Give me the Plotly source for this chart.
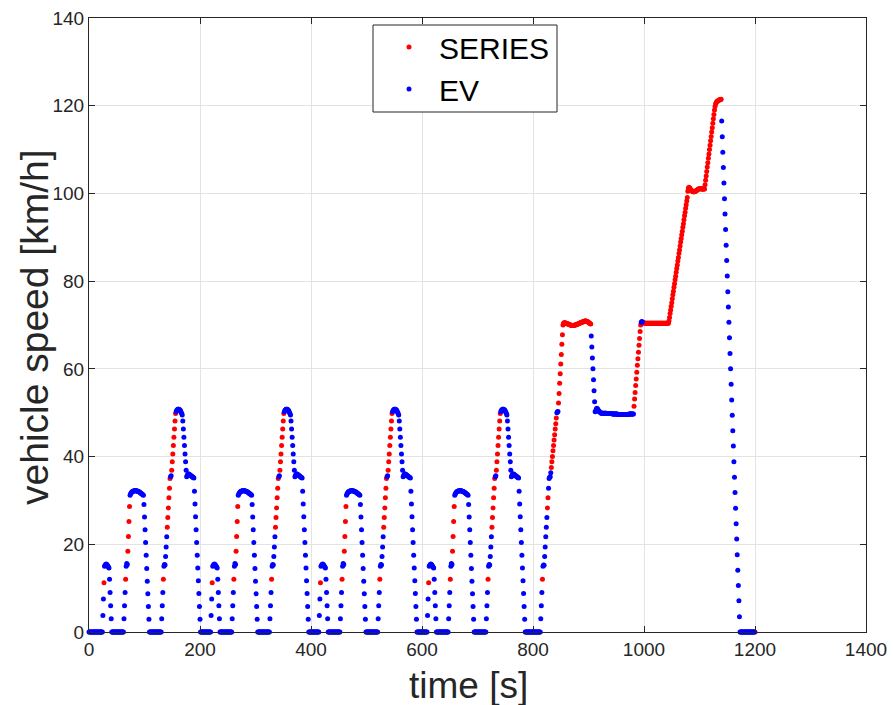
import numpy as np
import plotly.graph_objects as go

# ---------------- data (speed in km/h, one sample per second) ----------------
PRE_IDLE = [0] * 13

ECE_SPEED = (
    [0] * 12
    + [3.75, 7.5, 11.25, 15]
    + [15.2, 15.4, 15.5, 15.4, 15.2, 15.0, 14.8, 14.6]
    + [12, 9, 6, 3, 0]
    + [0] * 21
    + [3, 6, 9, 12, 15]
    + [15.6, 15.4]
    + [18.4, 21.8, 25.2, 28.6, 31.2]
    + [31.5, 31.7, 31.9, 32.0, 32.1, 32.1, 32.2, 32.2, 32.2, 32.2, 32.2, 32.2,
       32.1, 32.1, 32.0, 32.0, 31.9, 31.8, 31.7, 31.6, 31.5, 31.4, 31.3, 31.2]
    + [29.1, 26.2, 23.3, 20.4, 17.5, 14.5, 11.6, 8.7, 5.8, 2.9, 0]
    + [0] * 21
    + [3, 6, 9, 12, 15]
    + [15.4, 15.3]
    + [17.2, 19.4, 21.7, 23.9, 26.1, 28.3, 30.6, 32.8, 35]
    + [35.4, 35.6]
    + [36.9, 38.8, 40.6, 42.5, 44.4, 46.3, 48.1, 49.8]
    + [50.2, 50.5, 50.7, 50.8, 50.8, 50.8, 50.7, 50.6, 50.4, 50.1, 49.8, 49.5]
    + [48.1, 46.3, 44.4, 42.5, 40.6, 38.8, 36.9, 35.4]
    + [35.7, 35.9, 36.0, 36.0, 35.9, 35.8, 35.7, 35.6, 35.5, 35.4, 35.3, 35.2, 35.1]
    + [32.1, 29.2, 26.3, 23.3, 20.4, 17.5, 14.6, 11.7, 8.8, 5.8, 2.9, 0]
    + [0] * 6
)
# sample indices (inside one ECE cycle) driven in SERIES mode
ECE_SERIES_RANGES = [(14, 14), (53, 53), (57, 60), (121, 121), (128, 133), (136, 143)]

EUDC_SPEED = (
    [0] * 21
    + [3, 6, 9, 12, 15]
    + [15.3, 15.2]
    + [17.2, 19.4, 21.7, 23.9, 26.1, 28.3, 30.6, 32.8, 35]
    + [35.3, 35.4]
    + [36.3, 37.5, 38.8, 40, 41.3, 42.5, 43.8, 45, 46.3, 47.5, 48.8, 50]
    + [50.2, 50.3]
    + [52.2, 54.4, 56.7, 58.9, 61.1, 63.3, 65.6, 67.8, 70]
    + [70.4, 70.5, 70.5, 70.5, 70.4, 70.4, 70.3, 70.3, 70.2, 70.2,
       70.1, 70.1, 70.0, 70.0, 69.9, 69.9, 69.9, 69.9, 69.9, 69.9,
       70.0, 70.0, 70.0, 70.1, 70.1, 70.2, 70.2, 70.3, 70.3, 70.4,
       70.5, 70.5, 70.6, 70.6, 70.7, 70.7, 70.8, 70.8, 70.9, 70.9,
       70.9, 70.9, 70.8, 70.8, 70.7, 70.6, 70.5, 70.4, 70.3, 70.2]
    + [67.5, 65, 62.5, 60, 57.5, 55, 52.5, 50.2]
    + [50.4, 50.8, 51.0, 50.9, 50.7, 50.5, 50.3, 50.2, 50.1, 50.0]
    + [49.9] * 10 + [49.8] * 10 + [49.7] * 10 + [49.6] * 10 + [49.6] * 10 + [49.7] * 9
    + [51.5, 53.1, 54.6, 56.2, 57.7, 59.2, 60.8, 62.3, 63.8, 65.4, 66.9, 68.5, 70]
    + [70.6, 70.8, 70.7, 70.6, 70.5, 70.5, 70.4, 70.4, 70.4, 70.4,
       70.4, 70.4, 70.4, 70.4, 70.4, 70.4, 70.4, 70.4, 70.4, 70.4,
       70.4, 70.4, 70.4, 70.4, 70.4, 70.4, 70.4, 70.4, 70.4, 70.4,
       70.4, 70.4, 70.4, 70.4, 70.4, 70.4, 70.4, 70.4, 70.4, 70.4,
       70.4, 70.4, 70.4, 70.4, 70.4, 70.4, 70.4, 70.4, 70.4, 70.4]
    + [70.9, 71.7, 72.6, 73.4, 74.3, 75.1, 76, 76.9, 77.7, 78.6, 79.4, 80.3,
       81.1, 82, 82.9, 83.7, 84.6, 85.4, 86.3, 87.1, 88, 88.9, 89.7, 90.6,
       91.4, 92.3, 93.1, 94, 94.9, 95.7, 96.6, 97.4, 98.3, 99.1, 100.5]
    + [101.2, 101.4, 101.3, 101.1, 100.9, 100.7, 100.6, 100.5, 100.4, 100.4,
       100.4, 100.4, 100.5, 100.5, 100.6, 100.7, 100.8, 100.9, 101.0, 101.0,
       101.1, 101.1, 101.1, 101.0, 101.0, 101.0, 101.0, 101.0, 101.0, 101.0]
    + [102, 103, 104, 105, 106, 107, 108, 109, 110, 111,
       112, 113, 114, 115, 116, 117, 118, 119, 119.8, 120.4]
    + [120.7, 120.9, 121.0, 121.1, 121.2, 121.3, 121.3, 121.4, 121.4, 121.5]
    + [116.5, 112.9, 109.4, 105.9, 102.4, 98.8, 95.3, 91.8, 88.2, 84.7, 81.2,
       77.6, 74.1, 70.6, 67.1, 63.5, 60, 56.5, 52.9, 49.4, 45.9, 42.4, 38.8,
       35.3, 31.8, 28.2, 24.7, 21.2, 17.6, 14.1, 10.6, 7.1, 3.5, 0]
)
EUDC_SERIES_RANGES = [(24, 24), (33, 34), (40, 49), (53, 111), (189, 201), (205, 346)]

POST_IDLE = [0] * 27
FINAL_SERIES_TIME = [1200]

X_TICKS = [0, 200, 400, 600, 800, 1000, 1200, 1400]
Y_TICKS = [0, 20, 40, 60, 80, 100, 120, 140]
X_TITLE = "time [s]"
Y_TITLE = "vehicle speed [km/h]"

# ---------------- assemble ----------------
speed = np.array(PRE_IDLE + ECE_SPEED * 4 + EUDC_SPEED + POST_IDLE, dtype=float)
time = np.arange(len(speed))
series = np.zeros(len(speed), dtype=bool)
offset = len(PRE_IDLE)
for k in range(4):
    base = offset + k * len(ECE_SPEED)
    for a, b in ECE_SERIES_RANGES:
        series[base + a: base + b + 1] = True
base = offset + 4 * len(ECE_SPEED)
for a, b in EUDC_SERIES_RANGES:
    series[base + a: base + b + 1] = True
for t in FINAL_SERIES_TIME:
    series[t] = True

FONT = "Liberation Sans, Arial, Helvetica, sans-serif"
AX = "#262626"

W, H = 893, 705
L, R, T, B = 89, 27, 18, 73
PW, PH = W - L - R, H - T - B


def px_x(p):
    return (p - L) / PW


def px_y(p):
    return 1 - (p - T) / PH


fig = go.Figure()
fig.add_trace(go.Scatter(
    x=time[series], y=speed[series], mode="markers", name="SERIES",
    marker=dict(color="#ff0000", size=5), cliponaxis=False))
fig.add_trace(go.Scatter(
    x=time[~series], y=speed[~series], mode="markers", name="EV",
    marker=dict(color="#0000ff", size=5), cliponaxis=False))

axis_common = dict(
    showline=True, linecolor=AX, linewidth=1, mirror="ticks",
    ticks="inside", ticklen=6, tickcolor=AX, automargin=False,
    showgrid=True, gridcolor="#e3e3e3", gridwidth=1, zeroline=False,
    tickfont=dict(family=FONT, size=19, color=AX),
)
fig.update_xaxes(range=[0, 1400], tickvals=X_TICKS, **axis_common)
fig.update_yaxes(range=[0, 140], tickvals=Y_TICKS, **axis_common)

# axis titles
fig.add_annotation(text=X_TITLE, xref="paper", yref="paper",
                   x=px_x(468), y=px_y(685), xanchor="center", yanchor="middle",
                   showarrow=False, font=dict(family=FONT, size=37, color=AX))
fig.add_annotation(text=Y_TITLE, xref="paper", yref="paper",
                   x=px_x(34), y=px_y(327), xanchor="center", yanchor="middle",
                   textangle=-90, showarrow=False,
                   font=dict(family=FONT, size=39, color=AX))

# legend frame (pixel box 373..557 x 25..112)
fig.add_shape(type="rect", xref="paper", yref="paper",
              x0=px_x(373), x1=px_x(557), y0=px_y(112), y1=px_y(25),
              line=dict(color=AX, width=1), fillcolor="white", layer="above")

fig.update_layout(
    width=W, height=H,
    margin=dict(l=L, r=R, t=T, b=B),
    paper_bgcolor="white", plot_bgcolor="white",
    showlegend=True,
    legend=dict(x=px_x(379), y=px_y(21), xanchor="left", yanchor="top",
                bgcolor="rgba(0,0,0,0)", borderwidth=0,
                font=dict(family=FONT, size=30, color="black"),
                itemwidth=50),
)

fig.write_html("out.html")
